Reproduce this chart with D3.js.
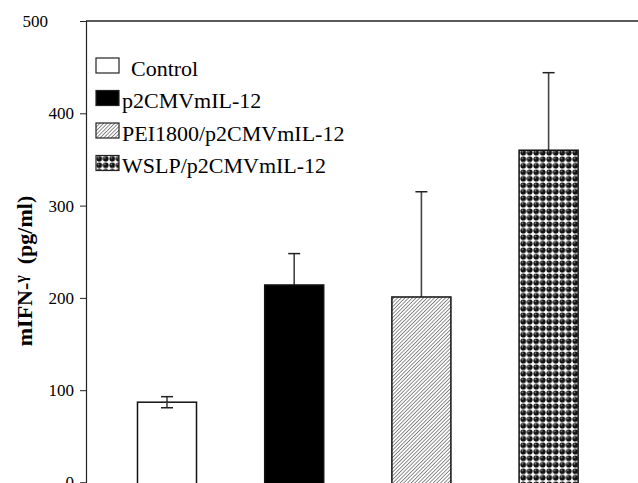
<!DOCTYPE html>
<html>
<head>
<meta charset="utf-8">
<script src="https://cdn.jsdelivr.net/npm/d3@7"></script>
<style>
  body { margin: 0; background: #fff; }
</style>
</head>
<body>
<div id="chartDiv"></div>
<script>

// data
var groups = ["Control", "p2CMVmIL-12", "PEI1800/p2CMVmIL-12", "WSLP/p2CMVmIL-12"];
var means = [87, 214, 201, 360];
var errUp = [6, 34, 114, 84];
var errDown = [6, 0, 0, 0];
var yTicks = [0, 100, 200, 300, 400, 500];

var width = 638, height = 483;
var serif = "'Liberation Serif', 'Times New Roman', Times, serif";

var svg = d3.select("#chartDiv")
  .append("svg")
    .attr("width", width)
    .attr("height", height)
    .style("font-family", serif);

var defs = svg.append("defs");

// diagonal hatch
var hatch = defs.append("pattern")
    .attr("id", "hatch")
    .attr("patternUnits", "userSpaceOnUse")
    .attr("width", 2.6)
    .attr("height", 2.6)
    .attr("patternTransform", "rotate(45)");
hatch.append("rect").attr("width", 2.6).attr("height", 2.6).attr("fill", "#fff");
hatch.append("line")
    .attr("x1", 0).attr("y1", 0).attr("x2", 0).attr("y2", 2.6)
    .attr("stroke", "#333").attr("stroke-width", 1.1);

// ball pattern
var balls = defs.append("pattern")
    .attr("id", "balls")
    .attr("patternUnits", "userSpaceOnUse")
    .attr("width", 6.5)
    .attr("height", 6.5);
balls.append("rect").attr("width", 6.5).attr("height", 6.5).attr("fill", "#fff");
balls.append("circle").attr("cx", 3.25).attr("cy", 3.25).attr("r", 2.9).attr("fill", "#111");
balls.append("circle").attr("cx", 2.4).attr("cy", 2.3).attr("r", 0.8).attr("fill", "#999");

var fills = ["#fff", "#000", "url(#hatch)", "url(#balls)"];

// scales
var y = d3.scaleLinear()
    .domain([0, 500])
    .range([482.5, 21]);

var x = d3.scaleBand()
    .domain(groups)
    .range([103.4, 612.2])
    .paddingInner(0.536)
    .paddingOuter(0.268);

// frame top line
svg.append("line")
    .attr("x1", 86).attr("x2", width)
    .attr("y1", y(500)).attr("y2", y(500))
    .attr("stroke", "#222").attr("stroke-width", 1.5);

// Y axis
var yAxis = svg.append("g")
    .attr("transform", "translate(86,0)")
    .call(d3.axisLeft(y).tickValues(yTicks).tickSize(6).tickPadding(6));
yAxis.attr("font-family", null);
yAxis.select(".domain").attr("stroke", "#222").attr("stroke-width", 1.2);
yAxis.selectAll(".tick line").attr("stroke", "#222");
yAxis.selectAll(".tick text")
    .style("font-family", serif)
    .style("font-size", "17px")
    .attr("fill", "#000")
    .attr("dx", function(d) { return d === 500 ? -26 : 0; });

// Y axis label
var ylab = svg.append("text")
    .attr("transform", "translate(32,271) rotate(-90)")
    .attr("text-anchor", "middle")
    .style("font-family", serif)
    .style("font-weight", "bold")
    .style("font-size", "22px");
ylab.append("tspan").text("mIFN-");
ylab.append("tspan").text("γ").style("font-size", "16px").attr("dy", -6);
ylab.append("tspan").text("\u00a0\u00a0(pg/ml)").attr("dy", 6);

// error stems (drawn under the bars)
svg.append("g")
  .selectAll("line")
    .data(groups)
    .enter()
    .append("line")
    .attr("x1", function(d) { return x(d) + x.bandwidth() / 2; })
    .attr("x2", function(d) { return x(d) + x.bandwidth() / 2; })
    .attr("y1", function(d, i) { return y(means[i] + errUp[i]); })
    .attr("y2", function(d, i) { return y(means[i]); })
    .attr("stroke", "#444").attr("stroke-width", 1.6);

// bars
svg.append("g")
  .selectAll("rect")
    .data(groups)
    .enter()
    .append("rect")
    .attr("x", function(d) { return x(d); })
    .attr("y", function(d, i) { return y(means[i]); })
    .attr("width", x.bandwidth())
    .attr("height", function(d, i) { return y(0) - y(means[i]) + 2; })
    .attr("fill", function(d, i) { return fills[i]; })
    .attr("stroke", "#111")
    .attr("stroke-width", 1.5);

// lower error parts + caps on top
var caps = svg.append("g");
var lowGroups = groups.filter(function(d, i) { return errDown[i] > 0; });

caps.selectAll("line.low")
    .data(lowGroups)
    .enter()
    .append("line")
    .attr("class", "low")
    .attr("x1", function(d) { return x(d) + x.bandwidth() / 2; })
    .attr("x2", function(d) { return x(d) + x.bandwidth() / 2; })
    .attr("y1", function(d) { var i = groups.indexOf(d); return y(means[i]); })
    .attr("y2", function(d) { var i = groups.indexOf(d); return y(means[i] - errDown[i]); })
    .attr("stroke", "#444").attr("stroke-width", 1.6);

caps.selectAll("line.capTop")
    .data(groups)
    .enter()
    .append("line")
    .attr("class", "capTop")
    .attr("x1", function(d) { return x(d) + x.bandwidth() / 2 - 6; })
    .attr("x2", function(d) { return x(d) + x.bandwidth() / 2 + 6; })
    .attr("y1", function(d, i) { return y(means[i] + errUp[i]); })
    .attr("y2", function(d, i) { return y(means[i] + errUp[i]); })
    .attr("stroke", "#222").attr("stroke-width", 1.5);

caps.selectAll("line.capLow")
    .data(lowGroups)
    .enter()
    .append("line")
    .attr("class", "capLow")
    .attr("x1", function(d) { return x(d) + x.bandwidth() / 2 - 6; })
    .attr("x2", function(d) { return x(d) + x.bandwidth() / 2 + 6; })
    .attr("y1", function(d) { var i = groups.indexOf(d); return y(means[i] - errDown[i]); })
    .attr("y2", function(d) { var i = groups.indexOf(d); return y(means[i] - errDown[i]); })
    .attr("stroke", "#222").attr("stroke-width", 1.5);

// legend
var legend = svg.append("g")
    .selectAll("g")
    .data(groups)
    .enter()
    .append("g")
    .attr("transform", function(d, i) { return "translate(96," + (58 + i * 32.5) + ")"; });

legend.append("rect")
    .attr("width", 23)
    .attr("height", 15)
    .attr("fill", function(d, i) { return fills[i]; })
    .attr("stroke", "#222")
    .attr("stroke-width", 1.2);

legend.append("text")
    .attr("x", function(d, i) { return i === 0 ? 35 : 26; })
    .attr("y", 17.5)
    .style("font-family", serif)
    .style("font-size", "22px")
    .text(function(d) { return d; });

</script>
</body>
</html>
